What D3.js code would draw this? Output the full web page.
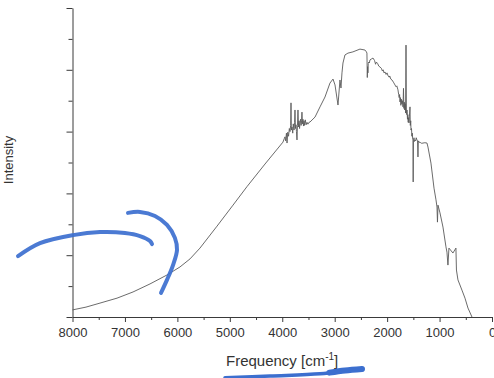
<!DOCTYPE html>
<html><head><meta charset="utf-8">
<script src="https://cdn.jsdelivr.net/npm/d3@7"></script>
<style>
html,body{margin:0;padding:0;background:#fff;}
svg{display:block;font-family:"Liberation Sans",Arial,Helvetica,sans-serif;}
</style></head><body>
<svg id="chart" width="494" height="378"></svg>
<script>
// Spectrum (frequency in cm^-1, intensity in arbitrary units 0..10)
const frequencies = [8000,7743,7476,7151,6846,6522,6198,5950,5759,5569,5244,4939,4672,4329,3986,
  3960,3948,3935,3920,3909,3895,3880,3865,3852,3840,3833,3826,3814,3800,3790,3775,3765,3757,3748,3738,3729,3719,3710,3700,3690,3680,3670,3662,3650,3640,3632,3624,3615,3605,3595,3585,3575,3560,3545,3528,3510,3490,3471,
  3375,3280,3185,3090,3032,2994,2937,2899,2880,2861,2842,2804,2747,2652,2518,
  2423,2395,2385,2378,2372,2366,2360,2350,2340,2327,2300,2269,2240,2220,2205,2180,2160,2136,2110,2090,2075,2060,2040,2020,2002,1980,1960,1950,1930,1907,1880,1850,1830,1815,
  1793,1780,1770,1762,1755,1745,1738,1730,1720,1710,1697,1688,1680,1672,1665,1655,1648,1640,1633,1626,1621,1612,1605,1598,1590,1583,1575,1564,1558,1550,1545,1535,1528,1520,1512,1507,1503,1498,1488,1480,1469,1455,1445,1431,1420,1412,1405,1393,1370,1340,1316,1280,1240,
  1221,1164,1106,1068,1049,1040,1030,992,935,878,859,840,821,745,688,678,649,573,515,458,382];
const intensities = [0.23,0.32,0.45,0.61,0.81,1.07,1.36,1.62,1.88,2.23,2.94,3.62,4.22,4.95,5.66,
  5.78,5.83,5.70,5.95,5.63,5.98,5.85,6.10,6.00,6.20,6.93,6.05,6.15,5.95,6.25,6.05,6.30,6.70,6.10,6.22,6.00,5.73,6.20,6.70,6.15,6.35,6.10,6.25,6.40,6.20,6.35,6.63,6.25,6.40,6.18,6.35,6.20,6.38,6.22,6.30,6.24,6.30,6.31,
  6.47,6.80,7.12,7.57,7.70,7.51,6.86,7.67,7.41,7.90,8.22,8.48,8.54,8.58,8.67,
  8.64,8.58,8.54,7.75,8.10,7.90,8.20,8.25,8.22,8.32,8.35,8.38,8.30,8.18,8.25,8.20,8.12,8.09,8.05,7.96,8.00,7.90,7.93,7.85,7.90,7.80,7.76,7.80,7.70,7.67,7.60,7.51,7.45,7.48,
  7.35,7.20,7.10,7.20,6.96,7.10,6.85,7.05,6.90,7.00,6.80,7.40,6.75,6.95,6.70,6.90,6.60,8.80,6.70,6.55,6.70,6.40,6.55,6.30,6.45,6.28,6.50,6.80,6.20,6.35,6.05,6.10,5.85,5.95,5.75,5.73,4.37,5.70,5.80,5.68,5.73,5.70,5.80,5.73,5.70,5.18,5.70,5.66,5.65,5.62,5.63,5.64,5.63,
  5.50,4.98,4.17,3.79,3.56,3.07,3.62,3.37,2.91,2.27,2.10,1.68,2.23,2.07,2.23,1.52,1.20,0.87,0.61,0.29,0.00];

const xMajorTicks = [8000,7000,6000,5000,4000,3000,2000,1000,0];
const xMinorTicks = [7500,6500,5500,4500,3500,2500,1500,500];
const yMajorTicks = [0,2,4,6,8,10];
const yMinorTicks = [1,3,5,7,9];
const xLabel = "Frequency [cm";
const xLabelSup = "-1";
const yLabel = "Intensity";

// Hand-drawn pen strokes over the figure, in data units
const penStroke1 = [[9039,1.97],[8620,2.39],[7990,2.65],[7476,2.75],[6999,2.72],[6713,2.62],[6522,2.46],[6484,2.36]];
const penStroke2 = [[6942,3.37],[6713,3.40],[6427,3.27],[6198,2.98],[6047,2.56],[6007,2.17],[6083,1.68],[6198,1.20],[6312,0.78]];
const penStroke3 = [[5092,-1.97],[4234,-1.91],[3280,-1.84],[2803,-1.75],[2479,-1.68]];
const penStroke3b = [[3100,-1.80],[2803,-1.73],[2479,-1.68]];

const svg = d3.select("#chart");
const x = d3.scaleLinear().domain([8000,0]).range([72.5,492]);
const y = d3.scaleLinear().domain([0,10]).range([317,8]);
const axisColor = "#3a3a3a";

// x axis
const gx = svg.append("g").attr("transform","translate(0,317)");
gx.call(d3.axisBottom(x).tickValues(xMajorTicks).tickSize(5).tickSizeOuter(0).tickPadding(6).tickFormat(d3.format("d")));
const gxm = svg.append("g").attr("transform","translate(0,317)");
gxm.call(d3.axisBottom(x).tickValues(xMinorTicks).tickSize(3).tickSizeOuter(0).tickFormat(""));
gxm.select(".domain").remove();
// y axis
const gy = svg.append("g").attr("transform","translate(72.5,0)");
gy.call(d3.axisLeft(y).tickValues(yMajorTicks).tickSize(6).tickSizeOuter(0).tickFormat(""));
const gym = svg.append("g").attr("transform","translate(72.5,0)");
gym.call(d3.axisLeft(y).tickValues(yMinorTicks).tickSize(4).tickSizeOuter(0).tickFormat(""));
gym.select(".domain").remove();

svg.selectAll(".domain, .tick line").attr("stroke",axisColor).attr("stroke-width",1);
svg.selectAll(".tick text").attr("fill","#333").attr("font-size","13px").attr("font-family","Liberation Sans, Arial, sans-serif");

// spectrum
const pts = frequencies.map((f,i)=>[f,intensities[i]]);
svg.append("path").datum(pts)
  .attr("d", d3.line().x(d=>x(d[0])).y(d=>y(d[1])))
  .attr("fill","none").attr("stroke","#5a5a5a").attr("stroke-width",0.9).attr("stroke-linejoin","round");

// axis titles
const xt = svg.append("text").attr("x",226).attr("y",366).attr("font-size","15px").attr("fill","#333");
xt.append("tspan").text(xLabel);
xt.append("tspan").attr("font-size","10px").attr("dy","-6").text(xLabelSup);
xt.append("tspan").attr("dy","6").text("]");
svg.append("text").attr("transform","translate(13,160) rotate(-90)")
  .attr("text-anchor","middle").attr("font-size","13px").attr("fill","#333").text(yLabel);

// pen strokes
const pen = d3.line().x(d=>x(d[0])).y(d=>y(d[1])).curve(d3.curveCatmullRom);
const blue = "#3c6fcf";
[penStroke1,penStroke2].forEach(s=>{
  svg.append("path").datum(s).attr("d",pen).attr("fill","none")
    .attr("stroke",blue).attr("stroke-width",4).attr("stroke-linecap","round").attr("opacity",0.92);
});
svg.append("path").datum(penStroke3).attr("d",pen).attr("fill","none")
  .attr("stroke",blue).attr("stroke-width",3.5).attr("stroke-linecap","round");
svg.append("path").datum(penStroke3b).attr("d",pen).attr("fill","none")
  .attr("stroke",blue).attr("stroke-width",6).attr("stroke-linecap","round");
</script>
</body></html>
